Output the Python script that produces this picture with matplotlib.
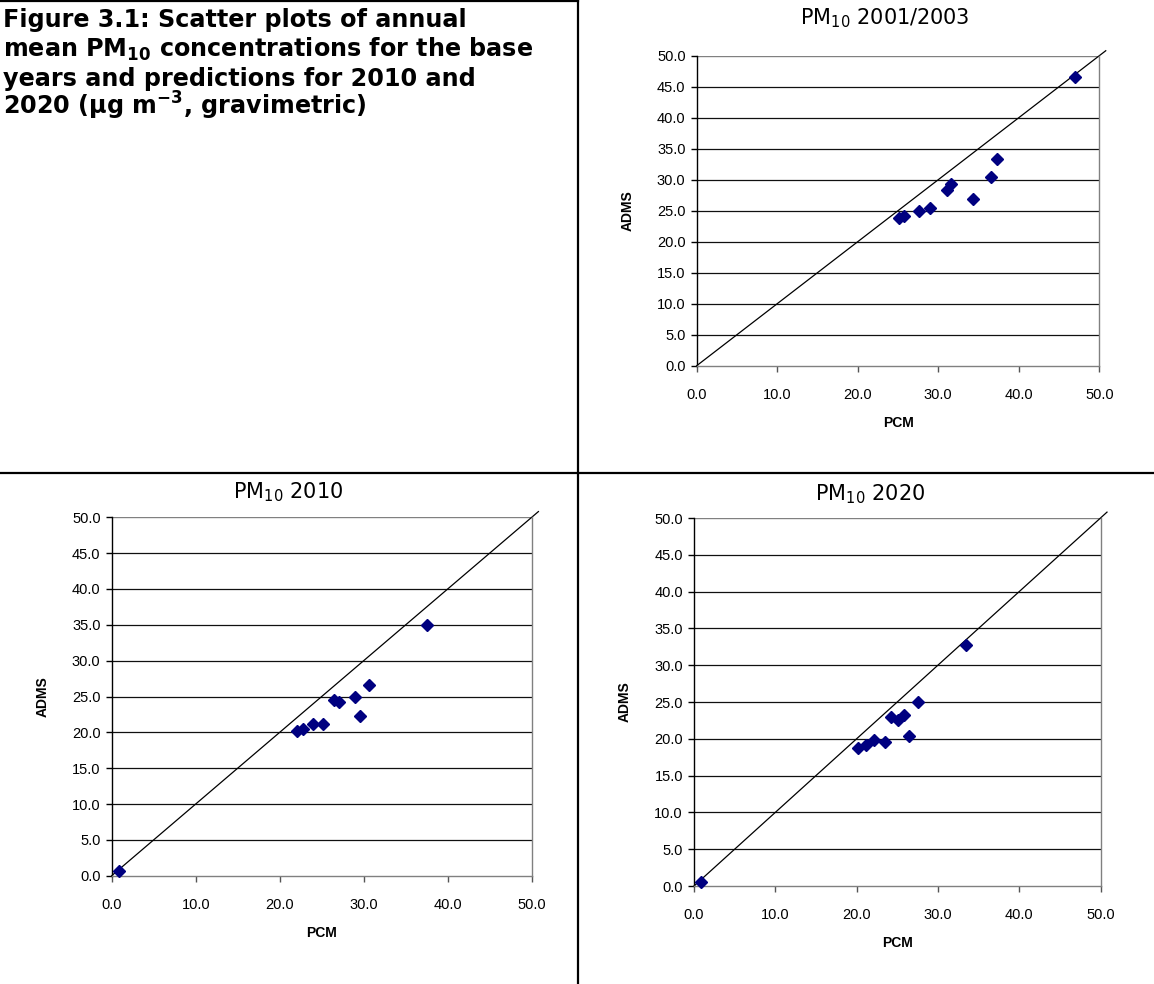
import numpy as np
import matplotlib
matplotlib.use('Agg')
from matplotlib import pyplot as plt
from matplotlib.lines import Line2D

W, H = 1154, 984

# PCM vs ADMS annual mean PM10, ug/m3
pcm_base = [47.0, 37.3, 36.6, 34.3, 31.6, 31.1, 29.0, 27.6, 25.8, 25.1]
adms_base = [46.5, 33.3, 30.5, 26.9, 29.3, 28.4, 25.4, 25.0, 24.2, 23.9]

pcm_2010 = [0.9, 37.5, 30.6, 29.0, 29.5, 26.5, 27.0, 25.1, 24.0, 22.8, 22.1]
adms_2010 = [0.7, 35.0, 26.6, 24.9, 22.3, 24.5, 24.2, 21.2, 21.2, 20.5, 20.2]

pcm_2020 = [0.8, 33.4, 27.5, 25.8, 25.1, 24.2, 26.5, 23.5, 22.2, 21.1, 20.2]
adms_2020 = [0.6, 32.7, 25.0, 23.2, 22.5, 22.9, 20.4, 19.5, 19.8, 19.1, 18.8]

ticks = [0.0, 10.0, 20.0, 30.0, 40.0, 50.0]
yticks = [0.0, 5.0, 10.0, 15.0, 20.0, 25.0, 30.0, 35.0, 40.0, 45.0, 50.0]

caption = ["Figure 3.1: Scatter plots of annual",
           r"mean $\mathbf{PM_{10}}$ concentrations for the base",
           "years and predictions for 2010 and",
           r"2020 (μg m$^{\mathbf{-3}}$, gravimetric)"]


def fx(px):
    return px / W


def fy(py):
    return 1 - py / H


def box(l, t, r, b):
    return [fx(l), fy(b), fx(r) - fx(l), fy(t) - fy(b)]


def scatter_panel(fig, rect, title, title_xy, pcm, adms):
    ax = fig.add_axes(rect)
    ax.set_xlim(0, 50)
    ax.set_ylim(0, 50)
    for v in yticks[1:-1]:
        ax.axhline(v, color='#101010', lw=0.9, zorder=1)
    ax.axhline(50, color='#808080', lw=1.0, zorder=1)
    ax.plot([0, 50.8], [0, 50.8], color='black', lw=0.9, clip_on=False, zorder=2)
    ax.plot(pcm, adms, linestyle='none', marker='D', ms=5.8, color='#000080', zorder=3, clip_on=False)
    ax.spines['top'].set_visible(False)
    ax.spines['left'].set_color('black')
    ax.spines['bottom'].set_color('#808080')
    ax.spines['right'].set_color('#808080')
    for s in ax.spines.values():
        s.set_linewidth(1.0)
    ax.set_xticks(ticks)
    ax.set_yticks(yticks)
    ax.set_xticklabels([f'{t:.1f}' for t in ticks], family='Liberation Sans', fontsize=10.5)
    ax.set_yticklabels([f'{t:.1f}' for t in yticks], family='Liberation Sans', fontsize=10.5)
    ax.tick_params(axis='x', direction='out', length=4, width=1, color='#555555', pad=12)
    ax.tick_params(axis='y', direction='out', length=4, width=1, color='black', pad=4)
    ax.set_xlabel('PCM', family='Liberation Sans', fontweight='bold', fontsize=10, labelpad=10)
    ax.set_ylabel('ADMS', family='Liberation Sans', fontweight='bold', fontsize=10, labelpad=16)
    fig.text(fx(title_xy[0]), fy(title_xy[1]), title, ha='center', va='center',
             family='DejaVu Sans', fontsize=15)
    return ax


fig = plt.figure(figsize=(W / 100, H / 100), dpi=100)
plt.rcParams['mathtext.fontset'] = 'dejavusans'

# table frame
fig.add_artist(Line2D([fx(578), fx(578)], [0, 1], color='black', lw=1.6))
fig.add_artist(Line2D([0, 1], [fy(472.5), fy(472.5)], color='black', lw=1.6))
fig.add_artist(Line2D([0, fx(578)], [fy(0.5), fy(0.5)], color='black', lw=1.6))

for i, line in enumerate(caption):
    fig.text(fx(3), fy(27 + i * 29.3), line, ha='left', va='baseline',
             family='DejaVu Sans', fontweight='bold', fontsize=17.2)

scatter_panel(fig, box(696.7, 55.7, 1099.3, 365.7), r'PM$_{10}$ 2001/2003', (885, 18),
              pcm_base, adms_base)
scatter_panel(fig, box(111.7, 517.3, 531.7, 875.7), r'PM$_{10}$ 2010', (288, 492),
              pcm_2010, adms_2010)
scatter_panel(fig, box(694, 518, 1100.5, 886), r'PM$_{10}$ 2020', (870, 494),
              pcm_2020, adms_2020)

fig.savefig('out.png', dpi=100)
